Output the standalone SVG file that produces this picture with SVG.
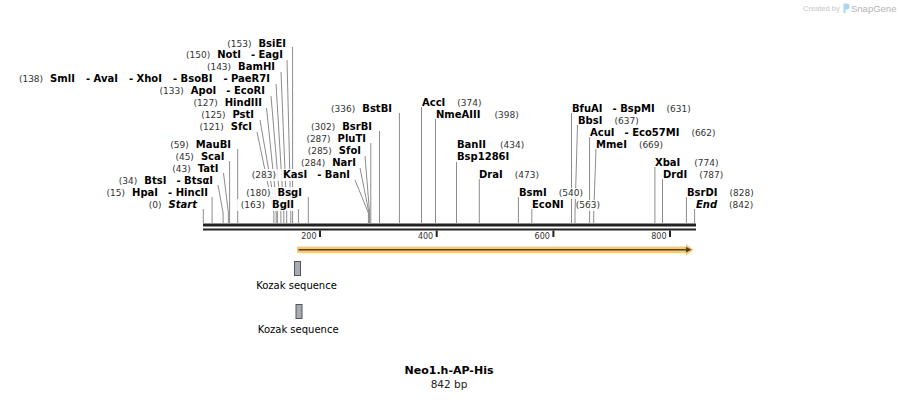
<svg xmlns="http://www.w3.org/2000/svg" width="900" height="400" viewBox="0 0 900 400">
<style>
text { font-family: "DejaVu Sans", Verdana, sans-serif; }
.num { font-size: 9px; fill: #333; font-weight: normal; }
.nm { font-size: 10px; font-weight: bold; fill: #000; }
.it { font-style: italic; }
.ln { fill: none; stroke: #8c8c8c; stroke-width: 1; }
.bg { fill: #fff; fill-opacity: 0.85; }
.tick { font-size: 8px; fill: #333; }
.feat { font-size: 10px; fill: #000; }
</style>
<rect width="900" height="400" fill="#fff"/>

<!-- watermark -->
<g id="watermark">
  <text x="803" y="11" font-family="Liberation Sans, Arial, sans-serif" font-size="7.5" fill="#c6c6c6" style="font-family:'Liberation Sans', Arial, sans-serif">Created by</text>
  <path d="M843.5,3.5 h3 a3,3 0 0 1 0,6 h-1 v3.5 h-2 z" fill="#a8d6f2"/>
  <text x="851" y="12" font-size="9.5" fill="#b4b4b4" style="font-family:'Liberation Sans', Arial, sans-serif">SnapGene</text>
</g>

<!-- connectors -->
<g id="connectors" class="ln">
  <!-- upper left fan -->
  <path d="M292.6,47 V223"/>
  <path d="M287,60 L290.8,213 V223"/>
  <path d="M281,72 L286.7,213 V223"/>
  <path d="M276,84 L283.8,213 V223"/>
  <path d="M271,96 L280.9,213 V223"/>
  <path d="M266.5,108 L277.4,213 V223"/>
  <path d="M260,120 L276.2,213 V223"/>
  <path d="M257,132 L273.9,213 V223"/>
  <!-- lower left -->
  <path d="M237.7,149 V223"/>
  <path d="M229.6,161 V223"/>
  <path d="M223.5,173 L228.4,213 V223"/>
  <path d="M218,185 L223.1,213 V223"/>
  <path d="M212.1,197 V223"/>
  <path d="M203.3,209 V223"/>
  <!-- middle -->
  <path d="M355,180 L368.4,213 V223"/>
  <path d="M360,168 L369,213 V223"/>
  <path d="M365,156 L369.6,213 V223"/>
  <path d="M370.8,143 V223"/>
  <path d="M379.5,131 V223"/>
  <path d="M399.4,113 V223"/>
  <path d="M308.3,197 V223"/>
  <path d="M298.4,209 V223"/>
  <!-- right -->
  <path d="M421.5,107 V223"/>
  <path d="M435.5,119 V223"/>
  <path d="M456.5,162 V223"/>
  <path d="M479.3,179 V223"/>
  <path d="M518.4,197 V223"/>
  <path d="M531.8,209 V223"/>
  <path d="M571.5,113 V223"/>
  <path d="M577.5,125 L575,213 V223"/>
  <path d="M589.6,137 V223"/>
  <path d="M596,149 L593.7,213 V223"/>
  <path d="M654.9,167 V223"/>
  <path d="M662.5,179 V223"/>
  <path d="M686.4,197 V223"/>
  <path d="M694.6,209 V223"/>
</g>

<!-- backbone -->
<g id="backbone">
  <rect x="203" y="223.5" width="493" height="3" fill="#222"/>
  <rect x="203" y="228.5" width="493" height="2" fill="#222"/>
  <rect x="319" y="230.5" width="2" height="6.5" fill="#222"/>
  <rect x="435.7" y="230.5" width="2" height="6.5" fill="#222"/>
  <rect x="552.4" y="230.5" width="2" height="6.5" fill="#222"/>
  <rect x="669" y="230.5" width="2" height="6.5" fill="#222"/>
  <text class="tick" x="316.5" y="238.5" text-anchor="end">200</text>
  <text class="tick" x="433.2" y="238.5" text-anchor="end">400</text>
  <text class="tick" x="549.9" y="238.5" text-anchor="end">600</text>
  <text class="tick" x="666.5" y="238.5" text-anchor="end">800</text>
</g>

<!-- ORF arrow -->
<g id="orf">
  <polygon points="297,246.5 686,246.5 686,244 693.5,249.7 686,255.4 686,253 297,253" fill="#f8c978"/>
  <line x1="298.5" y1="249.7" x2="687" y2="249.7" stroke="#4e4331" stroke-width="1.6"/>
  <polygon points="686,246.8 691.5,249.7 686,252.6" fill="#4e4331"/>
</g>

<!-- Kozak features -->
<g id="kozak1">
  <rect x="294.5" y="261.5" width="6" height="14" fill="#a7abb3" stroke="#555" stroke-width="1"/>
  <text class="feat" x="296.5" y="289.3" text-anchor="middle">Kozak sequence</text>
</g>
<g id="kozak2">
  <rect x="296" y="304.5" width="6" height="14" fill="#a7abb3" stroke="#555" stroke-width="1"/>
  <text class="feat" x="298.2" y="332.5" text-anchor="middle">Kozak sequence</text>
</g>

<!-- left upper labels -->
<g id="BsiEI"><text x="286" y="46.5" text-anchor="end"><tspan class="num">(153)</tspan><tspan class="nm" dx="7">BsiEI</tspan></text></g>
<g id="NotI"><text x="283" y="58.3" text-anchor="end"><tspan class="num">(150)</tspan><tspan class="nm" dx="7">NotI</tspan><tspan class="nm" dx="10">- EagI</tspan></text></g>
<g id="BamHI"><text x="275" y="70.2" text-anchor="end"><tspan class="num">(143)</tspan><tspan class="nm" dx="7">BamHI</tspan></text></g>
<g id="SmlI"><text x="270" y="82" text-anchor="end"><tspan class="num">(138)</tspan><tspan class="nm" dx="7">SmlI</tspan><tspan class="nm" dx="11">- AvaI</tspan><tspan class="nm" dx="11">- XhoI</tspan><tspan class="nm" dx="11">- BsoBI</tspan><tspan class="nm" dx="11">- PaeR7I</tspan></text></g>
<g id="ApoI"><text x="265" y="94" text-anchor="end"><tspan class="num">(133)</tspan><tspan class="nm" dx="7">ApoI</tspan><tspan class="nm" dx="10">- EcoRI</tspan></text></g>
<g id="HindIII"><text x="262" y="106" text-anchor="end"><tspan class="num">(127)</tspan><tspan class="nm" dx="7">HindIII</tspan></text></g>
<g id="PstI"><text x="254" y="118" text-anchor="end"><tspan class="num">(125)</tspan><tspan class="nm" dx="7">PstI</tspan></text></g>
<g id="SfcI"><text x="252" y="130" text-anchor="end"><tspan class="num">(121)</tspan><tspan class="nm" dx="7">SfcI</tspan></text></g>

<!-- left lower labels -->
<g id="MauBI"><text x="231" y="148" text-anchor="end"><tspan class="num">(59)</tspan><tspan class="nm" dx="7">MauBI</tspan></text></g>
<g id="ScaI"><text x="224.5" y="160" text-anchor="end"><tspan class="num">(45)</tspan><tspan class="nm" dx="7">ScaI</tspan></text></g>
<g id="TatI"><text x="218.5" y="172" text-anchor="end"><tspan class="num">(43)</tspan><tspan class="nm" dx="7">TatI</tspan></text></g>
<g id="BtsI"><text x="213" y="184" text-anchor="end"><tspan class="num">(34)</tspan><tspan class="nm" dx="7">BtsI</tspan><tspan class="nm" dx="10">- BtsαI</tspan></text></g>
<g id="HpaI"><text x="208" y="196" text-anchor="end"><tspan class="num">(15)</tspan><tspan class="nm" dx="7">HpaI</tspan><tspan class="nm" dx="10">- HincII</tspan></text></g>
<g id="Start"><text x="197" y="208" text-anchor="end"><tspan class="num">(0)</tspan><tspan class="nm it" dx="7">Start</tspan></text></g>

<!-- middle labels -->
<g id="KasI"><rect class="bg" x="247" y="169" width="106" height="12"/><text x="350" y="178" text-anchor="end"><tspan class="num">(283)</tspan><tspan class="nm" dx="7">KasI</tspan><tspan class="nm" dx="10">- BanI</tspan></text></g>
<g id="BsgI"><rect class="bg" x="243" y="187" width="62" height="12"/><text x="302" y="196" text-anchor="end"><tspan class="num">(180)</tspan><tspan class="nm" dx="7">BsgI</tspan></text></g>
<g id="BglI"><rect class="bg" x="236" y="199" width="61" height="12"/><text x="294" y="208" text-anchor="end"><tspan class="num">(163)</tspan><tspan class="nm" dx="7">BglI</tspan></text></g>
<g id="NarI"><text x="356" y="166" text-anchor="end"><tspan class="num">(284)</tspan><tspan class="nm" dx="7">NarI</tspan></text></g>
<g id="SfoI"><text x="361" y="154" text-anchor="end"><tspan class="num">(285)</tspan><tspan class="nm" dx="7">SfoI</tspan></text></g>
<g id="PluTI"><text x="366" y="142" text-anchor="end"><tspan class="num">(287)</tspan><tspan class="nm" dx="7">PluTI</tspan></text></g>
<g id="BsrBI"><text x="372" y="130" text-anchor="end"><tspan class="num">(302)</tspan><tspan class="nm" dx="7">BsrBI</tspan></text></g>
<g id="BstBI"><text x="392" y="112" text-anchor="end"><tspan class="num">(336)</tspan><tspan class="nm" dx="7">BstBI</tspan></text></g>

<!-- right labels -->
<g id="AccI"><text x="422" y="106"><tspan class="nm">AccI</tspan><tspan class="num" dx="12">(374)</tspan></text></g>
<g id="NmeAIII"><text x="436" y="118"><tspan class="nm">NmeAIII</tspan><tspan class="num" dx="14">(398)</tspan></text></g>
<g id="BanII"><text x="457" y="148"><tspan class="nm">BanII</tspan><tspan class="num" dx="14">(434)</tspan></text><text x="457" y="160"><tspan class="nm">Bsp1286I</tspan></text></g>
<g id="DraI"><text x="479" y="178"><tspan class="nm">DraI</tspan><tspan class="num" dx="12">(473)</tspan></text></g>
<g id="BsmI"><rect class="bg" x="559" y="188" width="29" height="11"/><text x="519" y="196"><tspan class="nm">BsmI</tspan><tspan class="num" dx="12">(540)</tspan></text></g>
<g id="EcoNI"><rect class="bg" x="576" y="200" width="28" height="11"/><text x="532" y="208"><tspan class="nm">EcoNI</tspan><tspan class="num" dx="12">(563)</tspan></text></g>
<g id="BfuAI"><text x="572" y="112"><tspan class="nm">BfuAI</tspan><tspan class="nm" dx="10">- BspMI</tspan><tspan class="num" dx="12">(631)</tspan></text></g>
<g id="BbsI"><text x="578" y="124"><tspan class="nm">BbsI</tspan><tspan class="num" dx="12">(637)</tspan></text></g>
<g id="AcuI"><text x="590" y="136"><tspan class="nm">AcuI</tspan><tspan class="nm" dx="10">- Eco57MI</tspan><tspan class="num" dx="12">(662)</tspan></text></g>
<g id="MmeI"><text x="596" y="148"><tspan class="nm">MmeI</tspan><tspan class="num" dx="12">(669)</tspan></text></g>
<g id="XbaI"><text x="655" y="166"><tspan class="nm">XbaI</tspan><tspan class="num" dx="14">(774)</tspan></text></g>
<g id="DrdI"><text x="663" y="178"><tspan class="nm">DrdI</tspan><tspan class="num" dx="12">(787)</tspan></text></g>
<g id="BsrDI"><text x="687" y="196"><tspan class="nm">BsrDI</tspan><tspan class="num" dx="12">(828)</tspan></text></g>
<g id="End"><text x="696" y="208"><tspan class="nm it">End</tspan><tspan class="num" dx="12">(842)</tspan></text></g>

<!-- title -->
<g id="title">
  <text x="449" y="373.5" text-anchor="middle" font-size="11" font-weight="bold">Neo1.h-AP-His</text>
  <text x="449" y="387.5" text-anchor="middle" font-size="10.5" fill="#222">842 bp</text>
</g>
</svg>
